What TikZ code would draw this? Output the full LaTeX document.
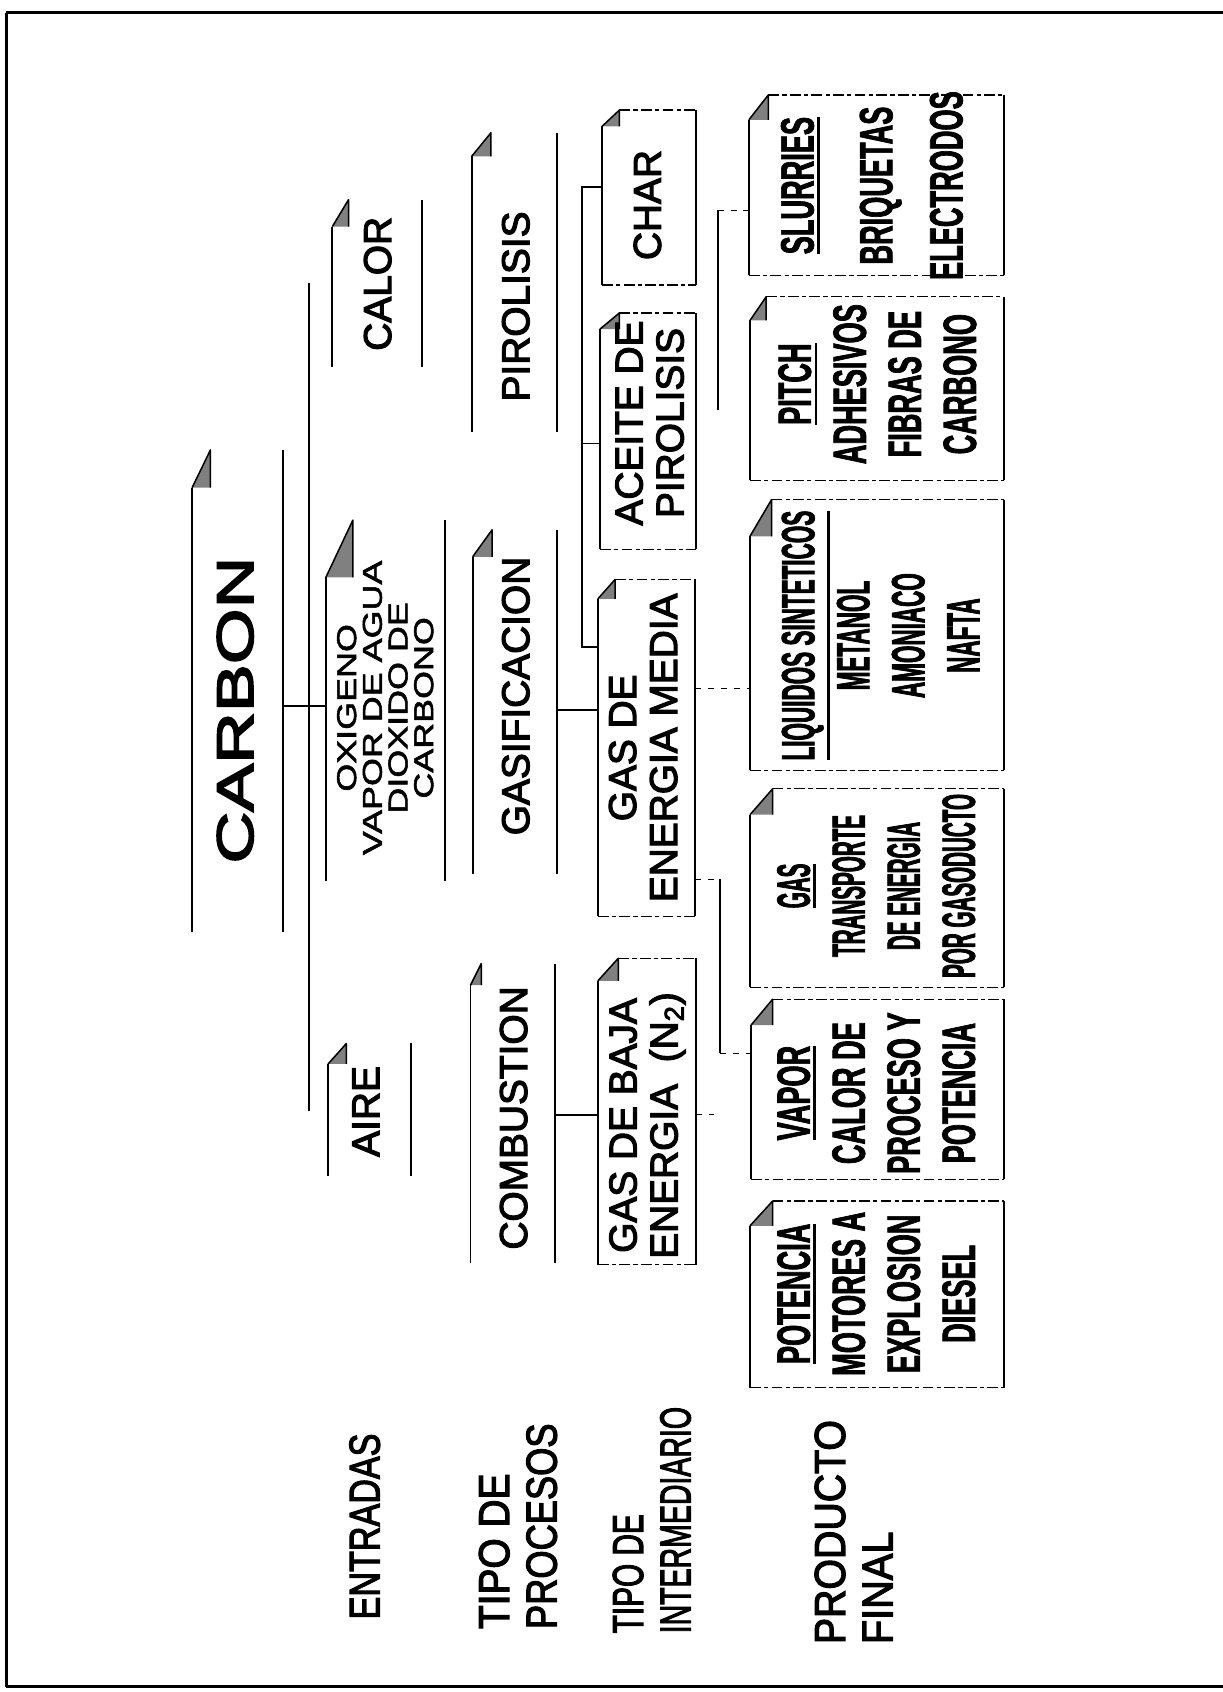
\documentclass[tikz,border=0pt]{standalone}
\usepackage{graphicx}
\usepackage{fontspec}
\setmainfont{Liberation Sans}
\newfontfamily\mainf[FakeBold=3]{Liberation Sans}
\newfontfamily\wideA[FakeStretch=1.32,FakeBold=2]{Liberation Sans}
\newfontfamily\wideB[FakeStretch=1.4,FakeBold=3.5]{Liberation Sans}
\newfontfamily\prodA[FakeStretch=0.58,BoldFeatures={FakeBold=1.5}]{Liberation Sans}
\newfontfamily\prodB[FakeStretch=0.44,BoldFeatures={FakeBold=1.5}]{Liberation Sans}
\newfontfamily\prodC[FakeStretch=0.48,BoldFeatures={FakeBold=1.5}]{Liberation Sans}
\usetikzlibrary{fit}
\newcommand\ulh[1]{\vtop{\hbox{#1}\kern1.5pt\hrule height 1.3pt}}
% name, L, R, T, FX, FB, B, horizontal-edge style
\newcommand\docbox[8]{%
  \node[fit={(#2,#4) (#3,#7)}, inner sep=0pt, outer sep=0pt] (#1) {};
  \fill[foldfill] (#2,#6) -- (#5,#4) -- (#5,#6) -- cycle;
  \draw[foldedge] (#2,#6) -- (#5,#4) -- (#5,#6);
  \draw[vline] (#2,#6) -- (#2,#7);
  \draw[vline] (#3,#4) -- (#3,#7);
  \draw[#8] (#5,#4) -- (#3,#4);
  \draw[#8] (#2,#7) -- (#3,#7);
}
\tikzset{
  vline/.style={line width=0.9pt},
  hdash/.style={line width=0.6pt, dash pattern=on 5pt off 1.5pt on 2pt off 1.5pt},
  noedge/.style={draw=none},
  foldfill/.style={fill=black!50},
  foldedge/.style={line width=0.7pt, line join=round},
  conn/.style={line width=0.9pt},
  faint/.style={line width=0.6pt, dash pattern=on 3pt off 3pt},
  lvl/.style={rotate=90, inner sep=0pt, align=center, font=\mainf\fontsize{18}{19}\selectfont},
  prod/.style={rotate=90, inner sep=0pt, align=center},
  pA/.style={prod, font=\prodA\bfseries\fontsize{21.7}{25.5}\selectfont},
  pB/.style={prod, font=\prodB\bfseries\fontsize{21.7}{25.5}\selectfont},
  pC/.style={prod, font=\prodC\bfseries\fontsize{21.7}{25.5}\selectfont},
  lab/.style={rotate=90, anchor=west, align=left, inner sep=0pt, font=\mainf\fontsize{20}{22}\selectfont}
}
\begin{document}
\begin{tikzpicture}[x=0.5pt,y=-0.5pt]
\useasboundingbox (0,0) rectangle (1133,1568);
% frame
\draw[line width=1.4pt] (6,12) -- (1133,12);
\draw[line width=1pt] (6,12) -- (6,1563);
\draw[line width=1.4pt] (6,1563) -- (1133,1563);
% boxes
\docbox{carbon}{178}{262}{417}{195}{452}{864}{noedge}
\docbox{calor}{308}{391}{185}{323}{210}{340}{noedge}
\docbox{oxigeno}{302}{412}{482}{327}{535}{816}{noedge}
\docbox{aire}{304}{381}{967}{321}{986}{1090}{noedge}
\docbox{pirolisis}{437}{516}{123}{455}{145}{400}{noedge}
\docbox{gasif}{438}{516}{491}{456}{516}{810}{noedge}
\docbox{combustion}{436}{514}{893}{446}{913}{1170}{noedge}
\docbox{char}{558}{645}{102}{574}{117}{264}{hdash}
\docbox{aceite}{556}{645}{290}{574}{305}{509}{hdash}
\docbox{gasmedia}{554}{644}{537}{570}{555}{849}{hdash}
\docbox{gasbaja}{554}{645}{888}{573}{909}{1172}{hdash}
\docbox{slurries}{694}{930}{88}{712}{111}{255}{hdash}
\docbox{pitch}{695}{930}{275}{710}{297}{445}{hdash}
\docbox{liquidos}{695}{930}{463}{715}{497}{714}{hdash}
\docbox{gasprod}{695}{930}{731}{716}{755}{915}{hdash}
\docbox{vapor}{696}{930}{926}{716}{950}{1093}{hdash}
\docbox{potencia}{695}{930}{1113}{716}{1136}{1286}{hdash}
% texts
\node[lvl, font=\wideB\fontsize{23.75}{26}\selectfont] (tcarbon) at (218,658) {CARBON};
\node[lvl] (tcalor) at (350,263) {CALOR};
\node[lvl] (taire) at (339,1030) {AIRE};
\node[lvl, font=\wideA\fontsize{12.6}{11.9}\selectfont] (toxi) at (357,656) {OXIGENO\\VAPOR DE AGUA\\DIOXIDO DE\\CARBONO};
\node[lvl] (tpiro) at (478,284) {PIROLISIS};
\node[lvl] (tgasif) at (478,645) {GASIFICACION};
\node[lvl] (tcomb) at (476,1036) {COMBUSTION};
\node[lvl] (tchar) at (600,190) {CHAR};
\node[lvl] (tacei) at (602,392) {ACEITE DE\\PIROLISIS};
\node[lvl] (tgmed) at (596,693) {GAS DE\\ENERGIA MEDIA};
\node[lvl] (tgbaj) at (600,1043) {GAS DE BAJA\\ENERGIA~~(N\textsubscript{2})};
\node[pA] (tslur) at (808,172) {\ulh{SLURRIES}\\[11pt]BRIQUETAS\\[7pt]ELECTRODOS};
\node[pA] (tpitch) at (813,356) {\ulh{PITCH}\\ADHESIVOS\\FIBRAS DE\\CARBONO};
\node[pC] (tliq) at (816,589) {\ulh{LIQUIDOS SINTETICOS}\\METANOL\\AMONIACO\\NAFTA};
\node[pB] (tgas) at (812,821) {\ulh{GAS}\\TRANSPORTE\\DE ENERGIA\\POR GASODUCTO};
\node[pA] (tvap) at (812,1013) {\ulh{VAPOR}\\CALOR DE\\PROCESO Y\\POTENCIA};
\node[pA] (tpot) at (812,1199) {\ulh{POTENCIA}\\MOTORES A\\EXPLOSION\\DIESEL};
% row labels
\node[lab] (lent) at (338,1501) {\scalebox{0.79}[1]{ENTRADAS}};
\node[lab] (lproc) at (480,1510) {\scalebox{0.9}[1]{TIPO DE}\\\scalebox{0.84}[1]{PROCESOS}};
\node[lab] (lint) at (604,1514) {\scalebox{0.69}[1]{TIPO DE}\\\scalebox{0.66}[1]{INTERMEDIARIO}};
\node[lab] (lprod) at (791,1524) {\scalebox{0.91}[1]{PRODUCTO}\\\scalebox{0.92}[1]{FINAL}};
% connectors
\coordinate (y654) at (0,654);
\coordinate (y658) at (0,658);
\coordinate (y1033) at (0,1033);
\coordinate (y638) at (0,638);
\coordinate (trunkT) at (286,262);
\coordinate (trunkB) at (286,1030);
\draw[conn] (trunkT) -- (trunkB);
\draw[conn] (carbon.east |- y654) -- (oxigeno.west |- y654);
\draw[conn] (gasif.east |- y658) -- (gasmedia.west |- y658);
\draw[conn] (combustion.east |- y1033) -- (gasbaja.west |- y1033);
\coordinate (brT) at (539,173);
\coordinate (brM) at (539,411);
\coordinate (brB) at (539,600);
\draw[conn] (char.west |- brT) -- (brT) -- (brB) -- (gasmedia.west |- brB);
\draw[conn] (brM) -- (aceite.west |- brM);
\coordinate (pbT) at (665,195);
\coordinate (pbB) at (665,380);
\draw[conn] (pbB) -- (pbT);
\draw[faint] (pbT) -- (slurries.west |- pbT);
\draw[faint] (gasmedia.east |- y638) -- (liquidos.west |- y638);
\coordinate (lbT) at (667,815);
\coordinate (lbB) at (667,976);
\draw[conn] (lbT) -- (lbB);
\draw[faint] (gasmedia.east |- lbT) -- (lbT);
\draw[faint] (lbB) -- (vapor.west |- lbB);
\coordinate (gbS) at (662,1033);
\draw[faint] (gasbaja.east |- y1033) -- (gbS);
\end{tikzpicture}
\end{document}
